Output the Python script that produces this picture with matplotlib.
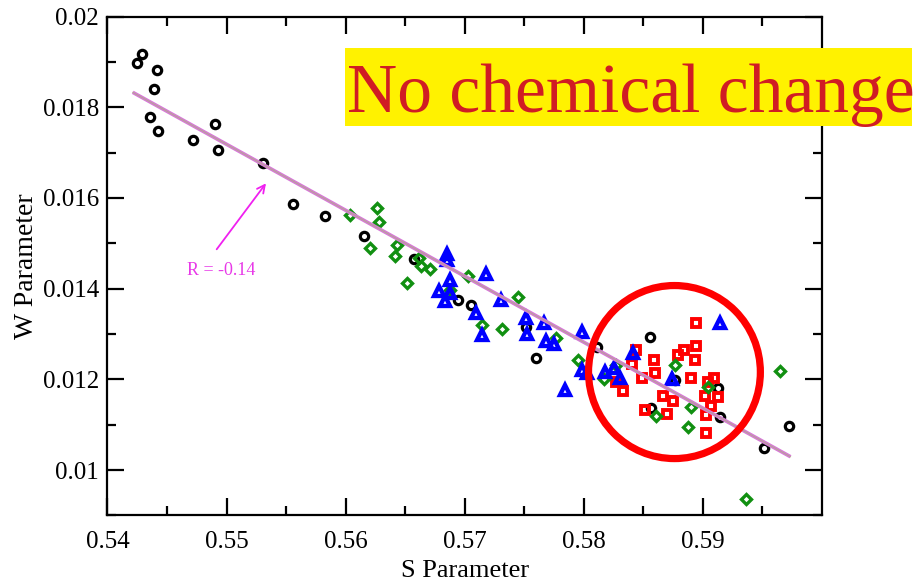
import matplotlib
matplotlib.use("Agg")
import matplotlib.pyplot as plt
from matplotlib.patches import Ellipse, Rectangle

# ---- data ----
black_s = [0.54288, 0.54249, 0.54414, 0.54394, 0.54355, 0.54425, 0.54719, 0.54900,
           0.54925, 0.55303, 0.55554, 0.55823, 0.56156, 0.56573, 0.56947, 0.57051,
           0.57512, 0.57596, 0.58108, 0.58553, 0.58765, 0.58564, 0.59128, 0.59144,
           0.59512, 0.59727]
black_w = [0.019169, 0.018970, 0.018816, 0.018410, 0.017779, 0.017477, 0.017272, 0.017638,
           0.017051, 0.016778, 0.015860, 0.015602, 0.015161, 0.014660, 0.013760, 0.013639,
           0.013154, 0.012477, 0.012713, 0.012927, 0.011996, 0.011361, 0.011802, 0.011175,
           0.010492, 0.010966]

green_s = [0.56033, 0.56261, 0.56282, 0.56206, 0.56435, 0.56416, 0.56513, 0.56613,
           0.56630, 0.56710, 0.57030, 0.56877, 0.57142, 0.57314, 0.57451, 0.57764,
           0.57950, 0.58169, 0.58273, 0.58763, 0.58901, 0.58608, 0.58877, 0.59044,
           0.59646, 0.59358]
green_w = [0.015624, 0.015772, 0.015463, 0.014890, 0.014962, 0.014726, 0.014118, 0.014687,
           0.014510, 0.014444, 0.014283, 0.013970, 0.013209, 0.013103, 0.013827, 0.012922,
           0.012422, 0.012002, 0.012327, 0.012322, 0.011383, 0.011197, 0.010944, 0.011830,
           0.012194, 0.009354]

blue_s = [0.56855, 0.56855, 0.57182, 0.56880, 0.56785, 0.56880, 0.56836, 0.57093,
          0.57142, 0.57303, 0.57518, 0.57526, 0.57666, 0.57680, 0.57750, 0.57981,
          0.57842, 0.57987, 0.58027, 0.58182, 0.58253, 0.58301, 0.58410, 0.58740,
          0.59145]
blue_w = [0.014764, 0.014643, 0.014318, 0.014184, 0.013959, 0.013897, 0.013727, 0.013474,
          0.012984, 0.013749, 0.013352, 0.013006, 0.013253, 0.012838, 0.012779, 0.013044,
          0.011764, 0.012205, 0.012133, 0.012168, 0.012250, 0.012040, 0.012591, 0.012002,
          0.013235]

red_s = [0.58944, 0.58435, 0.58593, 0.58407, 0.58600, 0.58488, 0.58268, 0.58326,
         0.58841, 0.58792, 0.58944, 0.58933, 0.58897, 0.59040, 0.59090, 0.59019,
         0.59128, 0.59071, 0.59022, 0.58667, 0.58750, 0.58516, 0.58698, 0.59027]
red_w = [0.013242, 0.012653, 0.012426, 0.012342, 0.012146, 0.012029, 0.011936, 0.011747,
         0.012647, 0.012543, 0.012739, 0.012426, 0.012029, 0.011941, 0.012040, 0.011625,
         0.011621, 0.011416, 0.011220, 0.011625, 0.011526, 0.011323, 0.011228, 0.010822]

# linear trend line end points
fit_s = [0.54212, 0.59736]
fit_w = [0.018330, 0.010293]

# correlation note and its arrow
r_label = "R = -0.14"
r_text_pos = (0.54956, 0.014301)
r_arrow_tail = (0.54917, 0.014868)
r_arrow_head = (0.55331, 0.016323)

# highlighted region
ring_center = (0.58761, 0.012161)
ring_size = (0.01443, 0.003816)

x_ticks = [0.54, 0.55, 0.56, 0.57, 0.58, 0.59]
x_tick_labels = ["0.54", "0.55", "0.56", "0.57", "0.58", "0.59"]
y_ticks = [0.010, 0.012, 0.014, 0.016, 0.018, 0.020]
y_tick_labels = ["0.01", "0.012", "0.014", "0.016", "0.018", "0.02"]

banner = "No chemical change"

# ---- figure ----
serif = ["Liberation Serif", "DejaVu Serif"]
plt.rcParams["font.family"] = serif

fig = plt.figure(figsize=(9.21, 5.80), dpi=100)
ax = fig.add_axes([0.1167, 0.1114, 0.7758, 0.8600])

ax.plot(black_s, black_w, linestyle="none", marker="o", ms=6.0, mew=2.3,
        mfc="none", mec="black", zorder=3)
ax.plot(red_s, red_w, linestyle="none", marker="s", ms=5.6, mew=2.8,
        mfc="none", mec="#ff0000", zorder=4)
ax.plot(green_s, green_w, linestyle="none", marker="D", ms=5.3, mew=2.4,
        mfc="none", mec="#119011", zorder=5)
ax.plot(blue_s, blue_w, linestyle="none", marker="^", ms=7.0, mew=3.1,
        mfc="none", mec="#0000ff", zorder=6)

ax.plot(fit_s, fit_w, color="#d67ad6", lw=2.6, solid_capstyle="butt", zorder=7)
ax.plot(fit_s, fit_w, color="#b4a88e", lw=0.7, zorder=7)

ax.add_patch(Ellipse(ring_center, ring_size[0], ring_size[1], fill=False,
                     edgecolor="#ff0000", lw=5.2, zorder=8))

ax.annotate("", xy=r_arrow_head, xytext=r_arrow_tail,
            arrowprops=dict(arrowstyle="->", color="#f020f0", lw=1.3,
                            shrinkA=0, shrinkB=0, mutation_scale=14))
ax.text(r_text_pos[0], r_text_pos[1], r_label, color="#e838e8", fontsize=13,
        ha="center", va="baseline")

ax.set_xlim(0.54, 0.60)
ax.set_ylim(0.009, 0.020)
ax.set_xticks(x_ticks)
ax.set_xticklabels(x_tick_labels)
ax.set_yticks(y_ticks)
ax.set_yticklabels(y_tick_labels)
ax.set_xticks([0.545, 0.555, 0.565, 0.575, 0.585, 0.595], minor=True)
ax.set_yticks([0.009, 0.011, 0.013, 0.015, 0.017, 0.019], minor=True)

ax.tick_params(which="both", direction="in", top=True, right=True, width=1.6,
               labelsize=18, colors="black")
ax.tick_params(axis="x", which="major", length=12, pad=11)
ax.tick_params(axis="y", which="major", length=12, pad=6)
ax.tick_params(which="minor", length=6.5)
for sp in ax.spines.values():
    sp.set_linewidth(1.6)

ax.set_xlabel("S Parameter", fontsize=19, labelpad=5)
ax.set_ylabel("W Parameter", fontsize=20)
ax.yaxis.set_label_coords(-0.096, 0.5)

# banner drawn over the upper right corner of the plot
fig.patches.append(Rectangle((345 / 921, 1 - 126 / 580), 567 / 921, 78 / 580,
                             transform=fig.transFigure, facecolor="#fff200",
                             edgecolor="none", zorder=5))
fig.text(347 / 921, 1 - 112 / 580, banner, color="#d01c24", fontsize=50,
         ha="left", va="baseline", zorder=6)

fig.savefig("out.png", dpi=100, facecolor="white")
